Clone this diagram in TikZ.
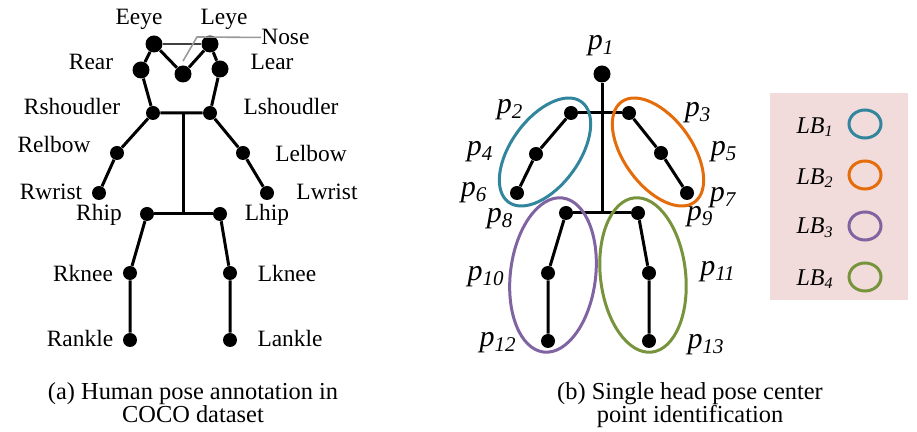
\documentclass[tikz,border=0pt]{standalone}
\usepackage{fontspec}
\setmainfont{Liberation Serif}
\usetikzlibrary{positioning}
\definecolor{lbteal}{HTML}{31859C}
\definecolor{lborange}{HTML}{E46C0A}
\definecolor{lbpurple}{HTML}{8064A2}
\definecolor{lbgreen}{HTML}{77933C}
\definecolor{legendbg}{HTML}{F2DCDB}
\definecolor{eyegray}{HTML}{404040}
\definecolor{leadgray}{HTML}{9A9A9A}
\tikzset{
  joint/.style={circle,fill=black,inner sep=0pt,minimum size=7pt},
  headjoint/.style={joint,minimum size=8.5pt},
  bone/.style={line width=1.5pt},
  lbl/.style={font=\fontsize{11.7}{14}\selectfont,inner sep=0pt,anchor=base},
  plbl/.style={font=\fontsize{15}{18}\selectfont\itshape,inner sep=0pt},
  lblb/.style={font=\fontsize{12}{14}\selectfont\itshape,inner sep=0pt},
  group/.style={line width=1.5pt},
  subcap/.style={font=\fontsize{12.2}{11.6}\selectfont,inner sep=0pt,align=center,anchor=north},
}
\begin{document}
\begin{tikzpicture}[x=0.5pt,y=-0.5pt]
    \useasboundingbox (0,0) rectangle (917,432);
    %% (a) COCO keypoints
    \node[headjoint] (reye) at (154,44) {};
    \node[headjoint] (leye) at (210,44) {};
    \node[headjoint] (nose) at (183,74) {};
    \node[headjoint] (rear) at (141,70) {};
    \node[headjoint] (lear) at (220,69) {};
    \node[joint] (rsho) at (153,113) {};
    \node[joint] (lsho) at (210,113) {};
    \node[joint] (relb) at (117,153) {};
    \node[joint] (lelb) at (243,153) {};
    \node[joint] (rwri) at (99,193) {};
    \node[joint] (lwri) at (267,193) {};
    \node[joint] (rhip) at (147,214) {};
    \node[joint] (lhip) at (220,214) {};
    \node[joint] (rkne) at (130,273) {};
    \node[joint] (lkne) at (230,273) {};
    \node[joint] (rank) at (130,340) {};
    \node[joint] (lank) at (230,340) {};
    \coordinate (neck) at (183,113);
    \coordinate (pelvis) at (183,214);
    %
    \draw[line width=1pt,eyegray] (reye) -- (leye);
    \draw[bone] (rear) -- (reye) -- (nose) -- (leye) -- (lear);
    \draw[bone] (rear) -- (rsho) -- (lsho) -- (lear);
    \draw[bone] (neck) -- (pelvis);
    \draw[bone] (rsho) -- (relb) -- (rwri);
    \draw[bone] (lsho) -- (lelb) -- (lwri);
    \draw[bone] (rhip) -- (lhip);
    \draw[bone] (rhip) -- (rkne) -- (rank);
    \draw[bone] (lhip) -- (lkne) -- (lank);
    %
    \node[lbl] (t-reye) at (139,25) {Eeye};
    \node[lbl] (t-leye) at (224,25) {Leye};
    \node[lbl,anchor=base west] (t-nose) at (261,45) {Nose};
    \node[lbl] (t-rear) at (91,70) {Rear};
    \node[lbl] (t-lear) at (272,70) {Lear};
    \node[lbl] (t-rsho) at (72,115) {Rshoudler};
    \node[lbl] (t-lsho) at (291,115) {Lshoudler};
    \node[lbl] (t-relb) at (54,153) {Relbow};
    \node[lbl] (t-lelb) at (311,162) {Lelbow};
    \node[lbl] (t-rwri) at (51,200) {Rwrist};
    \node[lbl] (t-lwri) at (327,200) {Lwrist};
    \node[lbl] (t-rhip) at (99,221) {Rhip};
    \node[lbl] (t-lhip) at (267,221) {Lhip};
    \node[lbl] (t-rkne) at (83,282) {Rknee};
    \node[lbl] (t-lkne) at (287,282) {Lknee};
    \node[lbl] (t-rank) at (80,347) {Rankle};
    \node[lbl] (t-lank) at (290,347) {Lankle};
    \coordinate (nosebend) at (197,37);
    \draw[line width=0.8pt,leadgray] ([yshift=2pt]nose.north) -- (nosebend) -- (t-nose.west);
    %
    \node[subcap] (cap-a) at (193,382) {(a) Human pose annotation in\\COCO dataset};
    %% (b) head center points
    \node[headjoint] (p1) at (602,74) {};
    \node[joint] (p2) at (571,113) {};
    \node[joint] (p3) at (629,113) {};
    \node[joint] (p4) at (536,154) {};
    \node[joint] (p5) at (661,153) {};
    \node[joint] (p6) at (517,193) {};
    \node[joint] (p7) at (687,193) {};
    \node[joint] (p8) at (566,213) {};
    \node[joint] (p9) at (638,213) {};
    \node[joint] (p10) at (548,273) {};
    \node[joint] (p11) at (649,273) {};
    \node[joint] (p12) at (548,341) {};
    \node[joint] (p13) at (649,341) {};
    \coordinate (pc) at (602,213);
    %
    \draw[bone] (p1) -- (pc);
    \draw[bone] (p2) -- (p3);
    \draw[bone] (p8) -- (p9);
    \draw[bone] (p2) -- (p4) -- (p6);
    \draw[bone] (p3) -- (p5) -- (p7);
    \draw[bone] (p8) -- (p10) -- (p12);
    \draw[bone] (p9) -- (p11) -- (p13);
    %
    \draw[group,lbteal,rotate around={54:(545,152)}] (545,152) ellipse [x radius=31pt,y radius=17pt];
    \draw[group,lborange,rotate around={-54:(658,152)}] (658,152) ellipse [x radius=31pt,y radius=17pt];
    \draw[group,lbpurple,rotate around={-7:(553,275)}] (553,275) ellipse [x radius=21.3pt,y radius=38.8pt];
    \draw[group,lbgreen,rotate around={6.5:(643,275)}] (643,275) ellipse [x radius=21.3pt,y radius=38.8pt];
    %
    \node[plbl] (t-p1) at (601,46) {p\textsubscript{1}};
    \node[plbl] (t-p2) at (510,110) {p\textsubscript{2}};
    \node[plbl] (t-p3) at (698,113) {p\textsubscript{3}};
    \node[plbl] (t-p4) at (480,152) {p\textsubscript{4}};
    \node[plbl] (t-p5) at (724,152) {p\textsubscript{5}};
    \node[plbl] (t-p6) at (474,193) {p\textsubscript{6}};
    \node[plbl] (t-p7) at (723,198) {p\textsubscript{7}};
    \node[plbl] (t-p8) at (500,219) {p\textsubscript{8}};
    \node[plbl] (t-p9) at (700,217) {p\textsubscript{9}};
    \node[plbl] (t-p10) at (486,277) {p\textsubscript{10}};
    \node[plbl] (t-p11) at (718,272) {p\textsubscript{11}};
    \node[plbl] (t-p12) at (498,343) {p\textsubscript{12}};
    \node[plbl] (t-p13) at (706,345) {p\textsubscript{13}};
    %
    \node[subcap] (cap-b) at (690,382) {(b) Single head pose center\\point identification};
    %% legend
    \fill[legendbg] (770,93) rectangle (908,300);
    \node[lblb] (lb1) at (815,127) {LB\textsubscript{1}};
    \node[lblb] (lb2) at (815,178) {LB\textsubscript{2}};
    \node[lblb] (lb3) at (815,228) {LB\textsubscript{3}};
    \node[lblb] (lb4) at (815,279) {LB\textsubscript{4}};
    \draw[group,lbteal] (865,124) ellipse [x radius=8pt,y radius=7pt];
    \draw[group,lborange] (865,175) ellipse [x radius=8pt,y radius=7pt];
    \draw[group,lbpurple] (865,226) ellipse [x radius=8pt,y radius=7pt];
    \draw[group,lbgreen] (865,277) ellipse [x radius=8pt,y radius=7pt];
\end{tikzpicture}
\end{document}
